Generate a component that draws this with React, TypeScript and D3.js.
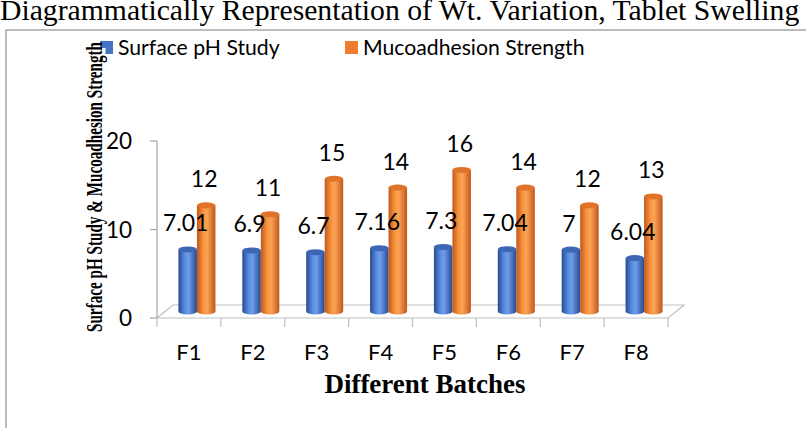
import React from "react";
import * as d3 from "d3";

const categories = ["F1", "F2", "F3", "F4", "F5", "F6", "F7", "F8"];
const seriesNames = ["Surface pH Study", "Mucoadhesion Strength"];
const phValues = [7.01, 6.9, 6.7, 7.16, 7.3, 7.04, 7, 6.04];
const mucoValues = [12, 11, 15, 14, 16, 14, 12, 13];
const phLabels = ["7.01", "6.9", "6.7", "7.16", "7.3", "7.04", "7", "6.04"];
const mucoLabels = ["12", "11", "15", "14", "16", "14", "12", "13"];
const yTicks = [0, 10, 20];

const W = 806;
const H = 428;
const sans = "Lato, 'Open Sans', sans-serif";
const serif = "'Liberation Serif', 'Times New Roman', serif";

const x = d3.scaleBand<string>().domain(categories).range([157, 668]).paddingInner(0).paddingOuter(0);
const y = d3.scaleLinear().domain([0, 20]).range([318, 141]);
const depth = { dx: 16, dy: -13 };
const inner = d3.scaleBand<string>().domain(seriesNames).range([-18.5, 18.5]);

const palettes = [
  { id: "gBlue", dark: "#274a8e", mid: "#5a8ee2", light: "#6d9cea", top: "#3d66b5" },
  { id: "gOrange", dark: "#c3561a", mid: "#f9963f", light: "#fba354", top: "#e0732a" },
];

function Cylinder({ cx, w, v, p }: { cx: number; w: number; v: number; p: typeof palettes[0] }) {
  const base = y(0) + depth.dy / 2;
  const top = base - (y(0) - y(v));
  const ry = 3;
  const rx = w / 2;
  return (
    <g>
      <rect x={cx - rx} y={top} width={w} height={base - top} fill={`url(#${p.id})`} />
      <ellipse cx={cx} cy={base} rx={rx} ry={ry} fill={`url(#${p.id})`} />
      <ellipse cx={cx} cy={top} rx={rx} ry={ry} fill={p.top} />
    </g>
  );
}

export default function App() {
  const floorFront = y(0);
  const x0 = x.range()[0];
  const x1 = x.range()[1];
  const series = [phValues, mucoValues];
  const labels = [phLabels, mucoLabels];
  return (
    <svg width={W} height={H} style={{ display: "block", position: "absolute", left: 0, top: 0 }}>
      <defs>
        {palettes.map((p) => (
          <linearGradient key={p.id} id={p.id} x1="0" x2="1" y1="0" y2="0">
            <stop offset="0" stopColor={p.dark} />
            <stop offset="0.35" stopColor={p.mid} />
            <stop offset="0.55" stopColor={p.light} />
            <stop offset="1" stopColor={p.dark} />
          </linearGradient>
        ))}
      </defs>
      <rect width={W} height={H} fill="#fff" />
      <text x={0} y={19.5} fontFamily={serif} fontSize={29.7} fill="#000">
        Diagrammatically Representation of Wt. Variation, Tablet Swelling
      </text>
      <rect x={6} y={30} width={900} height={500} fill="none" stroke="#a6a6a6" strokeWidth={1.5} />

      {/* floor */}
      <path
        d={`M${x0},${floorFront} L${x1},${floorFront} L${x1 + depth.dx},${floorFront + depth.dy} L${x0 + depth.dx},${floorFront + depth.dy} Z`}
        fill="none"
        stroke="#bfbfbf"
        strokeWidth={1.2}
      />
      {/* value axis */}
      <line x1={x0} x2={x0} y1={y(20)} y2={floorFront} stroke="#a6a6a6" strokeWidth={1.2} />
      {yTicks.map((t) => (
        <g key={t}>
          <line x1={x0 - 7} x2={x0} y1={y(t)} y2={y(t)} stroke="#a6a6a6" strokeWidth={1.2} />
          <text x={x0 - 25} y={y(t) + 8} textAnchor="end" fontFamily={sans} fontSize={22.5} fill="#000">
            {t}
          </text>
        </g>
      ))}
      {/* category ticks */}
      {[...categories.map((c) => x(c) as number), x1].map((t, i) => (
        <line key={i} x1={t} x2={t} y1={floorFront} y2={floorFront + 9} stroke="#bfbfbf" strokeWidth={1.2} />
      ))}
      {categories.map((c) => (
        <text key={c} x={(x(c) as number) + x.bandwidth() / 2} y={360} textAnchor="middle" fontFamily={sans} fontSize={22} fill="#000">
          {c}
        </text>
      ))}

      {/* bars */}
      {categories.map((c, i) => {
        const cc = (x(c) as number) + x.bandwidth() / 2 + depth.dx / 2;
        return (
          <g key={c}>
            {seriesNames.map((s, k) => {
              const bw = inner.bandwidth();
              const bx = cc + (inner(s) as number) + bw / 2;
              return <Cylinder key={s} cx={bx} w={bw} v={series[k][i]} p={palettes[k]} />;
            })}
          </g>
        );
      })}
      {/* labels */}
      {categories.map((c, i) => {
        const cc = (x(c) as number) + x.bandwidth() / 2 + depth.dx / 2;
        return (
          <g key={c}>
            {seriesNames.map((s, k) => {
              const bw = inner.bandwidth();
              const bx = cc + (inner(s) as number) + bw / 2 - 2;
              const top = y(0) + depth.dy / 2 - (y(0) - y(series[k][i]));
              return (
                <text key={s} x={bx} y={top - 18} textAnchor="middle" fontFamily={sans} fontSize={23} fill="#000">
                  {labels[k][i]}
                </text>
              );
            })}
          </g>
        );
      })}

      {/* legend */}
      <rect x={100} y={41} width={13} height={13} fill="#4472C4" />
      <text x={118} y={55} fontFamily={sans} fontSize={21.2} fill="#000">{seriesNames[0]}</text>
      <rect x={345} y={41} width={13} height={13} fill="#ED7D31" />
      <text x={363} y={55} fontFamily={sans} fontSize={21.2} fill="#000">{seriesNames[1]}</text>

      {/* y title */}
      <rect x={85} y={48} width={20.5} height={300} fill="#fff" />
      <text
        transform="translate(102,187) rotate(-90)"
        textAnchor="middle"
        fontFamily={serif}
        fontWeight="bold"
        fontSize={23}
        textLength={290}
        lengthAdjust="spacingAndGlyphs"
        fill="#000"
      >
        Surface pH Study &amp; Mucoadhesion Strength
      </text>

      {/* x title */}
      <text x={425} y={393} textAnchor="middle" fontFamily={serif} fontWeight="bold" fontSize={27} fill="#000">
        Different Batches
      </text>
    </svg>
  );
}
